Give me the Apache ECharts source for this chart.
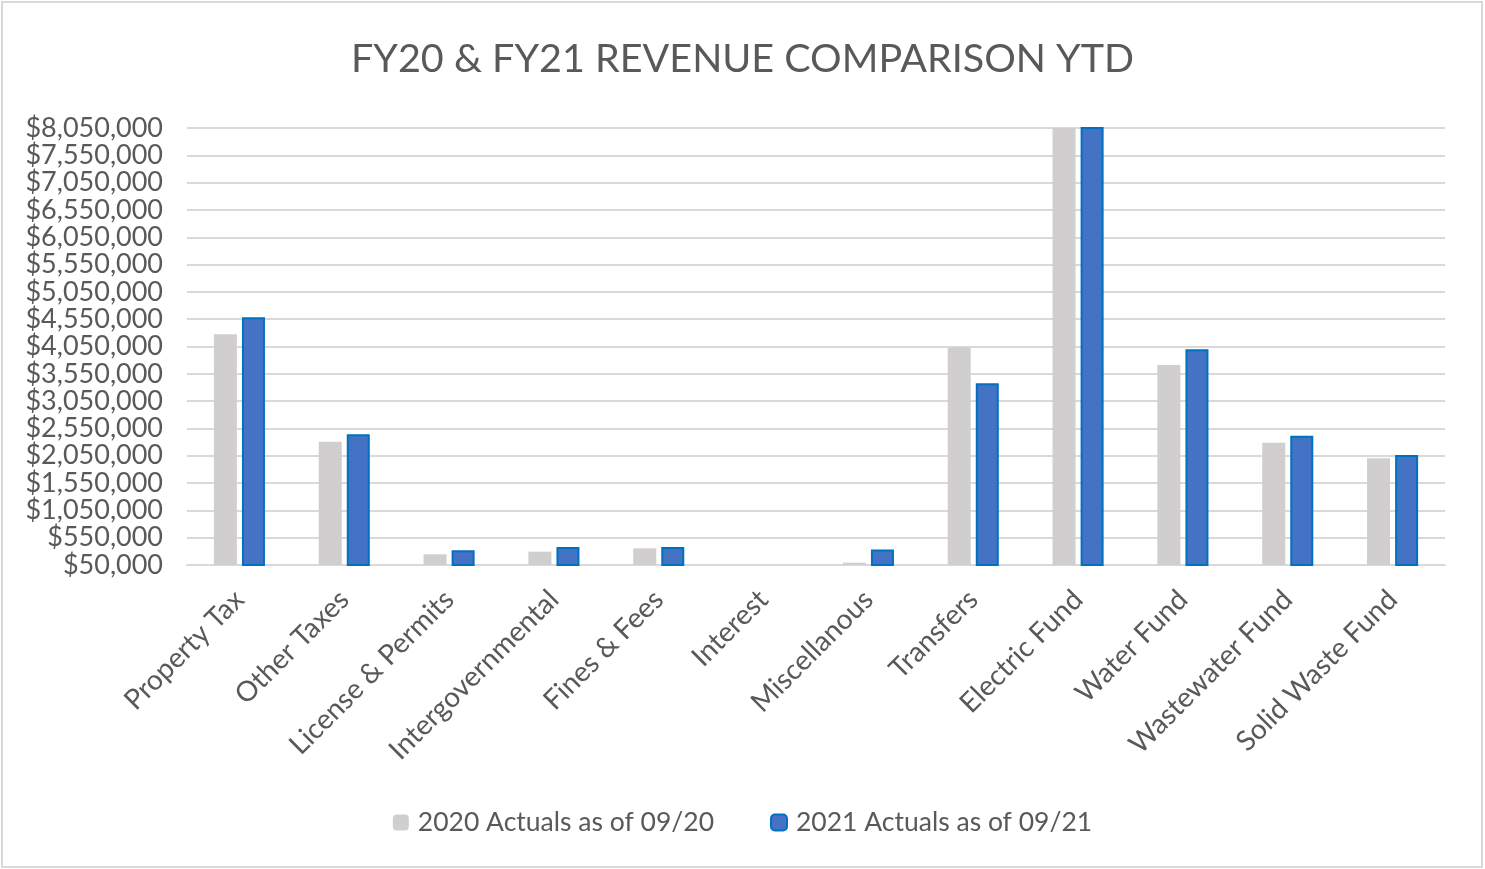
<!DOCTYPE html>
<html>
<head>
<meta charset="utf-8">
<script src="https://cdn.jsdelivr.net/npm/echarts@6/dist/echarts.min.js"></script>
<style>
  html, body { margin: 0; padding: 0; background: #fff; }
  #chart { width: 1485px; height: 869px; }
</style>
</head>
<body>
<div id="chart"></div>
<script>
// Revenue categories
const categories = [
  'Property Tax', 'Other Taxes', 'License & Permits', 'Intergovernmental',
  'Fines & Fees', 'Interest', 'Miscellanous', 'Transfers',
  'Electric Fund', 'Water Fund', 'Wastewater Fund', 'Solid Waste Fund'
];

// Year-to-date actuals
const actuals2020 = [
  4275000, 2308000, 246000, 294000, 355000, 30000,
  92000, 4030000, 8150000, 3713000, 2290000, 2004000
];
const actuals2021 = [
  4586000, 2444000, 318000, 380000, 380000, 35000,
  335000, 3378000, 8250000, 4000000, 2418000, 2065000
];

const seriesNames = ['2020 Actuals as of 09/20', '2021 Actuals as of 09/21'];

// Value axis: ticks every $500,000 starting at $50,000
const yMin = 50000;
const yMax = 8050000;
const yStep = 500000;

const fontFamily = 'Lato, "Open Sans", sans-serif';
const textColor = '#595959';

const chart = echarts.init(document.getElementById('chart'));
chart.setOption({
  animation: false,
  title: {
    text: 'FY20 & FY21 REVENUE COMPARISON YTD',
    left: 'center',
    top: 34,
    textStyle: { fontFamily, fontSize: 39.5, fontWeight: 'normal', color: textColor }
  },
  legend: {
    bottom: 28,
    left: 'center',
    itemWidth: 16,
    itemHeight: 16,
    itemGap: 56,
    textStyle: { fontFamily, fontSize: 26.5, color: textColor, padding: [0, 0, 0, 4] },
    data: seriesNames
  },
  grid: { left: 187, right: 40, top: 128, bottom: 304 },
  xAxis: {
    type: 'category',
    data: categories,
    axisLine: { lineStyle: { color: '#d9d9d9', width: 2 } },
    axisTick: { show: false },
    axisLabel: {
      rotate: 45,
      interval: 0,
      margin: 30,
      fontFamily, fontSize: 28, color: textColor
    }
  },
  yAxis: {
    type: 'value',
    min: yMin,
    max: yMax,
    interval: yStep,
    axisLine: { show: false },
    axisTick: { show: false },
    splitLine: { lineStyle: { color: '#d9d9d9', width: 2 } },
    axisLabel: {
      margin: 24,
      fontFamily, fontSize: 27, color: textColor,
      formatter: v => '$' + v.toLocaleString('en-US')
    }
  },
  series: [
    {
      name: seriesNames[0],
      type: 'bar',
      data: actuals2020,
      barWidth: 23,
      barGap: '22%',
      clip: true,
      itemStyle: { color: '#d0cece' }
    },
    {
      name: seriesNames[1],
      type: 'bar',
      data: actuals2021,
      barWidth: 23,
      clip: true,
      itemStyle: { color: '#4472c4', borderColor: '#0070c0', borderWidth: 2 }
    }
  ],
  graphic: [{
    type: 'rect',
    shape: { x: 2, y: 2, width: 1480, height: 865 },
    style: { fill: 'none', stroke: '#d9d9d9', lineWidth: 2 },
    silent: true
  }]
});
</script>
</body>
</html>
